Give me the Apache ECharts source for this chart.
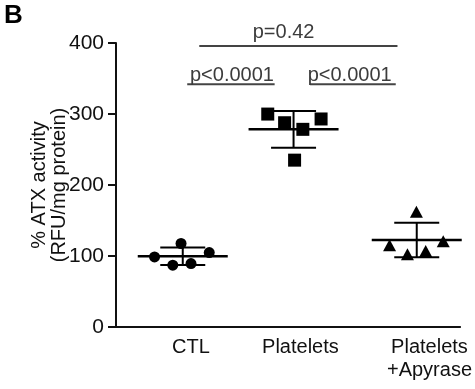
<!DOCTYPE html>
<html>
<head>
<meta charset="utf-8">
<script src="https://cdn.jsdelivr.net/npm/echarts@6/dist/echarts.min.js"></script>
<style>
html,body{margin:0;padding:0;background:#fff;}
#chart{width:475px;height:389px;}
</style>
</head>
<body>
<div id="chart"></div>
<script>
// ---- data ----
const categories = ['CTL', 'Platelets', 'Platelets\n+Apyrase'];
const categoryPos = [21.8, 53.6, 91.1];
const groupCenters = [19.4, 51.6, 87.4];

const ctlX = [11.2, 18.9, 27.1, 16.5, 21.8];
const ctlY = [98.7, 117.6, 104.9, 87.0, 89.4];
const plateletsX = [44.1, 49.0, 54.3, 59.6, 51.9];
const plateletsY = [299.9, 287.7, 278.4, 293.0, 235.0];
const apyraseX = [79.5, 84.7, 87.3, 90.0, 95.1];
const apyraseY = [115.2, 102.5, 162.2, 107.2, 120.9];

const means = [99.6, 278.4, 122.4];
const sds = [12.4, 25.9, 24.3];

const sigX1 = [24.2, 20.7, 56.4];
const sigX2 = [81.8, 46.1, 81.3];
const sigLineY = [395.8, 341.8, 341.8];
const sigTextX = [48.7, 33.7, 67.9];
const sigTextY = [415.5, 353.8, 353.8];
const sigLabels = ['p=0.42', 'p<0.0001', 'p<0.0001'];

// ---- chart ----
const FONT = '"Liberation Sans", Arial, Helvetica, sans-serif';
const chart = echarts.init(document.getElementById('chart'), null, {renderer: 'canvas'});

function zip(xs, ys) { return xs.map((x, i) => [x, ys[i]]); }

const option = {
  animation: false,
  backgroundColor: '#ffffff',
  grid: {left: 116, right: 12, top: 43, bottom: 62, containLabel: false},
  graphic: [{
    type: 'text', left: 4, top: 3,
    style: {text: 'B', font: 'bold 26px ' + FONT, fill: '#000'}
  }],
  xAxis: {
    type: 'value', min: 0, max: 100,
    splitLine: {show: false},
    axisLine: {show: true, onZero: false, lineStyle: {color: '#111', width: 2}},
    axisTick: {show: false},
    axisLabel: {
      customValues: categoryPos,
      hideOverlap: false,
      margin: 9,
      color: '#111',
      fontSize: 20,
      fontFamily: FONT,
      lineHeight: 23,
      align: 'center',
      formatter: function (v) {
        for (let i = 0; i < categoryPos.length; i++) {
          if (Math.abs(categoryPos[i] - v) < 0.01) return categories[i];
        }
        return '';
      }
    }
  },
  yAxis: {
    type: 'value', min: 0, max: 400, interval: 100,
    splitLine: {show: false},
    axisLine: {show: true, lineStyle: {color: '#111', width: 2}},
    axisTick: {show: true, length: 8, lineStyle: {color: '#111', width: 2}},
    axisLabel: {margin: 12, color: '#111', fontSize: 21, fontFamily: FONT},
    name: '% ATX activity\n(RFU/mg protein)',
    nameLocation: 'middle',
    nameGap: 47,
    nameMoveOverlap: false,
    nameTextStyle: {color: '#111', fontSize: 20, fontFamily: FONT, lineHeight: 20}
  },
  series: [
    {
      type: 'scatter', data: zip(ctlX, ctlY), symbol: 'circle', symbolSize: 11,
      itemStyle: {color: '#000', opacity: 1}, z: 3
    },
    {
      type: 'scatter', data: zip(plateletsX, plateletsY), symbol: 'rect', symbolSize: 13,
      itemStyle: {color: '#000', opacity: 1}, z: 3
    },
    {
      type: 'scatter', data: zip(apyraseX, apyraseY), symbol: 'triangle', symbolSize: [13, 12],
      itemStyle: {color: '#000', opacity: 1}, z: 3
    },
    {
      type: 'custom', z: 4, clip: false,
      data: groupCenters.map((c, i) => [c, means[i], sds[i]]),
      renderItem: function (params, api) {
        const cx = api.value(0), m = api.value(1), s = api.value(2);
        const c = api.coord([cx, m]);
        const t = api.coord([cx, m + s]);
        const b = api.coord([cx, m - s]);
        const st = {stroke: '#000', lineWidth: 2};
        return {
          type: 'group',
          children: [
            {type: 'line', shape: {x1: c[0] - 45, y1: c[1], x2: c[0] + 45, y2: c[1]}, style: {stroke: '#000', lineWidth: 2.5}},
            {type: 'line', shape: {x1: t[0], y1: t[1], x2: b[0], y2: b[1]}, style: st},
            {type: 'line', shape: {x1: t[0] - 22.5, y1: t[1], x2: t[0] + 22.5, y2: t[1]}, style: st},
            {type: 'line', shape: {x1: b[0] - 22.5, y1: b[1], x2: b[0] + 22.5, y2: b[1]}, style: st}
          ]
        };
      }
    },
    {
      type: 'custom', z: 5, clip: false,
      data: sigLabels.map((l, i) => [sigX1[i], sigX2[i], sigLineY[i], sigTextX[i], sigTextY[i]]),
      renderItem: function (params, api) {
        const i = params.dataIndex;
        const p1 = api.coord([api.value(0), api.value(2)]);
        const p2 = api.coord([api.value(1), api.value(2)]);
        const pt = api.coord([api.value(3), api.value(4)]);
        return {
          type: 'group',
          children: [
            {type: 'line', shape: {x1: p1[0], y1: p1[1], x2: p2[0], y2: p2[1]}, style: {stroke: '#444', lineWidth: 2}},
            {type: 'text', style: {text: sigLabels[i], x: pt[0], y: pt[1], align: 'center', verticalAlign: 'middle',
              font: '20px ' + FONT, fill: '#3c3c3c'}}
          ]
        };
      }
    }
  ]
};
chart.setOption(option);
</script>
</body>
</html>
